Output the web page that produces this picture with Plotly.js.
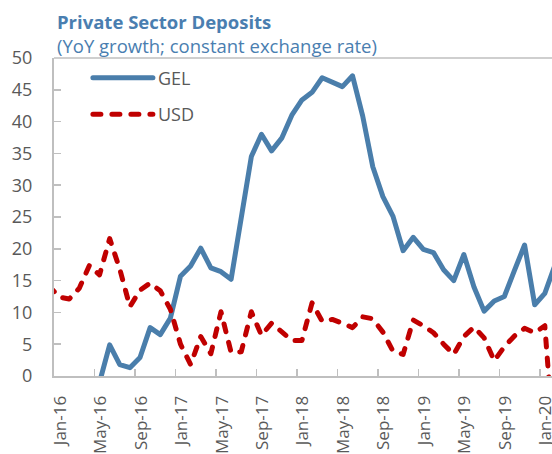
<!DOCTYPE html>
<html>
<head>
<meta charset="utf-8">
<script src="https://cdn.plot.ly/plotly-3.0.1.min.js"></script>
<style>
  html, body { margin: 0; padding: 0; overflow: hidden; background: #fff; }
  #chart { width: 570px; height: 454px; }
  .js-line { stroke-linecap: round; stroke-linejoin: round; }
</style>
</head>
<body>
<div id="chart"></div>
<script>
const categories = [
  'Dec-15',
  'Jan-16','Feb-16','Mar-16','Apr-16','May-16','Jun-16','Jul-16','Aug-16','Sep-16','Oct-16','Nov-16','Dec-16',
  'Jan-17','Feb-17','Mar-17','Apr-17','May-17','Jun-17','Jul-17','Aug-17','Sep-17','Oct-17','Nov-17','Dec-17',
  'Jan-18','Feb-18','Mar-18','Apr-18','May-18','Jun-18','Jul-18','Aug-18','Sep-18','Oct-18','Nov-18','Dec-18',
  'Jan-19','Feb-19','Mar-19','Apr-19','May-19','Jun-19','Jul-19','Aug-19','Sep-19','Oct-19','Nov-19','Dec-19',
  'Jan-20','Feb-20'
];

const gel = [
  -6,
  -7, -6, -5, -3, -1, 4.9, 1.8, 1.3, 2.9, 7.6, 6.5, 9.1,
  15.7, 17.3, 20.1, 17.0, 16.4, 15.2, 24.6, 34.5, 38.0, 35.4, 37.4, 41.0,
  43.4, 44.6, 46.9, 46.2, 45.5, 47.2, 40.9, 32.9, 28.2, 25.1, 19.7, 21.8,
  19.9, 19.4, 16.7, 15.0, 19.1, 14.0, 10.2, 11.8, 12.5, 16.6, 20.6, 11.2,
  13.0, 17.4
];

const usd = [
  14.2,
  12.4, 12.1, 13.8, 17.4, 15.9, 21.6, 16.8, 10.9, 13.5, 14.6, 13.4, 10.5,
  5.0, 1.8, 6.2, 3.5, 10.1, 3.7, 3.8, 10.1, 6.4, 8.3, 7.0, 5.6,
  5.6, 11.5, 8.6, 8.9, 8.3, 7.6, 9.3, 9.0, 6.9, 3.9, 3.4, 8.8,
  7.9, 6.8, 5.0, 3.4, 6.2, 7.7, 6.0, 2.4, 4.6, 6.3, 7.5, 6.8,
  7.9, -13
];

const seriesNames = ['GEL', 'USD'];
const titleText = 'Private Sector Deposits';
const subtitleText = '(YoY growth; constant exchange rate)';

const axisGray = '#BFBFBF';
const textGray = '#595959';
const titleBlue = '#4A7EB0';

const traces = [
  {
    x: categories, y: gel, name: seriesNames[0], type: 'scatter', mode: 'lines',
    line: { color: '#4A7EAB', width: 5 }, legendgroup: 'a'
  },
  {
    x: categories, y: usd, name: seriesNames[1], type: 'scatter', mode: 'lines',
    line: { color: '#C00000', width: 5, dash: '8px,11px' }, legendgroup: 'b'
  }
];

const layout = {
  width: 570, height: 454,
  margin: { l: 54, r: 10, t: 58, b: 77.5 },
  paper_bgcolor: '#ffffff', plot_bgcolor: '#ffffff',
  font: { family: 'Open Sans, Noto Sans, sans-serif', color: textGray, size: 18 },
  title: {
    text: '<b>' + titleText + '</b><br><span style="font-size:18.5px">' + subtitleText + '</span>',
    font: { size: 18.5, color: titleBlue, family: 'Open Sans, sans-serif' },
    x: 57 / 570, xanchor: 'left', xref: 'container',
    y: 1 - 29 / 454, yanchor: 'top', yref: 'container'
  },
  showlegend: true,
  legend: {
    x: 0.067, xanchor: 'left', y: 0.995, yanchor: 'top',
    bgcolor: 'rgba(0,0,0,0)', font: { size: 18, color: textGray },
    traceorder: 'grouped', tracegroupgap: 10, itemwidth: 60
  },
  xaxis: {
    type: 'category',
    range: [0.5, 50.5],
    tick0: 1, dtick: 4,
    tickson: 'boundaries',
    ticks: 'inside', ticklen: 7, tickwidth: 1.5, tickcolor: axisGray,
    tickangle: -90,
    ticklabelstandoff: 11,
    ticklabelshift: 1,
    tickfont: { size: 17, color: textGray },
    showline: true, linecolor: axisGray, linewidth: 2,
    showgrid: false, zeroline: false, fixedrange: true
  },
  yaxis: {
    range: [0, 50], dtick: 5, tick0: 0,
    ticks: 'inside', ticklen: 7, tickwidth: 1.5, tickcolor: axisGray,
    ticklabelstandoff: 16,
    tickfont: { size: 18, color: textGray },
    showline: true, linecolor: axisGray, linewidth: 2,
    showgrid: false, zeroline: false, fixedrange: true
  },
  shapes: [
    { type: 'line', xref: 'paper', yref: 'paper', x0: 0, x1: 1, y0: 1, y1: 1,
      line: { color: axisGray, width: 1.5 } }
  ]
};

Plotly.newPlot('chart', traces, layout, { displayModeBar: false, staticPlot: true });
</script>
</body>
</html>
